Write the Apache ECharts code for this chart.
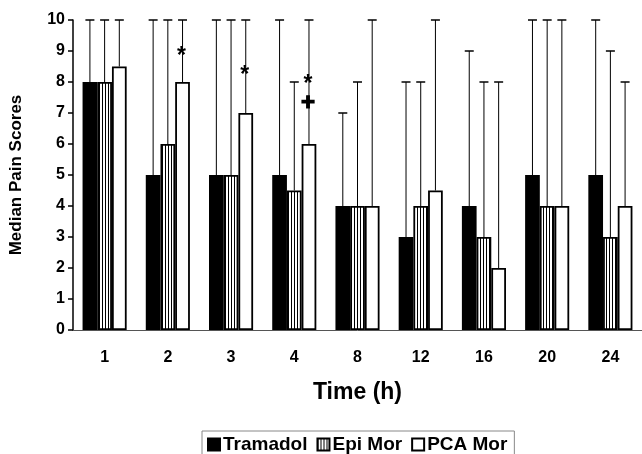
<!DOCTYPE html>
<html><head><meta charset="utf-8">
<script src="https://cdn.jsdelivr.net/npm/echarts@6/dist/echarts.min.js"></script>
<style>html,body{margin:0;padding:0;background:#fff}#c{width:642px;height:454px}</style>
</head><body><div id="c"></div>
<script>
const categories = ['1','2','3','4','8','12','16','20','24'];
const seriesNames = ['Tramadol','Epi Mor','PCA Mor'];
const tramadol = [8,5,5,5,4,3,4,5,5];
const epiMor   = [8,6,5,4.5,4,4,3,4,3];
const pcaMor   = [8.5,8,7,6,4,4.5,2,4,4];
const tramadolUpper = [10,10,10,10,7,8,9,10,10];
const epiMorUpper   = [10,10,10,8,8,8,8,10,9];
const pcaMorUpper   = [10,10,10,10,10,10,8,10,8];
const yTicks = [0,1,2,3,4,5,6,7,8,9,10];
// significance marks: [category index, series index, y value, symbol]
const marks = [[1,2,9.0,'*'],[2,2,8.4,'*'],[3,2,8.1,'*'],[3,2,7.3,'+']];

const BW = 14.7;
const pat = document.createElement('canvas');
pat.width = 3; pat.height = 4;
const pctx = pat.getContext('2d');
pctx.fillStyle = '#fff'; pctx.fillRect(0,0,3,4);
pctx.fillStyle = '#000'; pctx.fillRect(0,0,1,4);

const values = [tramadol, epiMor, pcaMor];
const uppers = [tramadolUpper, epiMorUpper, pcaMorUpper];
const fills = ['#000', {image: pat, repeat: 'repeat'}, '#fff'];

const chart = echarts.init(document.getElementById('c'), null, {renderer:'canvas'});
const series = [];
values.forEach((v, s) => {
  series.push({
    name: seriesNames[s], type: 'bar', data: v, barWidth: BW, barGap: '0%',
    itemStyle: {color: fills[s], borderColor: '#000', borderWidth: 1.8},
    z: 2
  });
});
values.forEach((v, s) => {
  series.push({
    type: 'custom', silent: true, z: 1,
    data: v.map((val, i) => [i, val, uppers[s][i]]),
    renderItem: function (params, api) {
      const off = (s - 1) * BW;
      const p0 = api.coord([api.value(0), api.value(1)]);
      const p1 = api.coord([api.value(0), api.value(2)]);
      const x = p0[0] + off;
      return {type: 'group', children: [
        {type:'line', shape:{x1:x, y1:p0[1], x2:x, y2:p1[1]}, style:{stroke:'#000', lineWidth:1}},
        {type:'line', shape:{x1:x-4.5, y1:p1[1], x2:x+4.5, y2:p1[1]}, style:{stroke:'#000', lineWidth:1.5}}
      ]};
    }
  });
});
series.push({
  type: 'custom', silent: true, z: 5,
  data: marks.map(m => [m[0], m[2], m[1]]),
  renderItem: function (params, api) {
    const m = marks[params.dataIndex];
    const p = api.coord([api.value(0), api.value(1)]);
    const off = (api.value(2) - 1) * BW;
    const isPlus = m[3] === '+';
    return {type:'text', x: p[0] + off - 1, y: p[1] + (isPlus ? 0 : 6),
      style:{text: m[3], fill:'#000', stroke: isPlus ? '#000' : null, lineWidth: isPlus ? 1.2 : 0,
        font: isPlus ? 'bold 24px "Liberation Sans", Arial' : 'bold 23px "Liberation Sans", Arial', textAlign:'center', textVerticalAlign:'middle'}};
  }
});

chart.setOption({
  animation: false,
  backgroundColor: '#fff',
  textStyle: {fontFamily: '"Liberation Sans", Arial, sans-serif'},
  grid: {left: 72, right: 0, top: 20, bottom: 124},
  legend: {
    data: seriesNames, left: 202, top: 431, orient: 'horizontal',
    icon: 'rect', itemWidth: 12, itemHeight: 12, itemGap: 9,
    padding: [4, 7, 10, 5], borderColor: '#888', borderWidth: 1,
    textStyle: {fontSize: 19, fontWeight: 'bold', color: '#000', padding: [0,0,0,-2]}
  },
  xAxis: {
    type: 'category', data: categories,
    name: 'Time (h)', nameLocation: 'middle', nameGap: 51,
    nameTextStyle: {fontSize: 23, fontWeight: 'bold', color: '#000'},
    axisLine: {lineStyle: {color: '#555', width: 1}},
    axisTick: {show: false},
    axisLabel: {fontSize: 16, fontWeight: 'bold', color: '#000', margin: 20}
  },
  yAxis: {
    type: 'value', min: 0, max: 10, interval: 1,
    name: 'Median Pain Scores', nameLocation: 'middle', nameGap: 48,
    nameTextStyle: {fontSize: 17, fontWeight: 'bold', color: '#000'},
    axisLine: {show: true, lineStyle: {color: '#000', width: 1.5}},
    axisTick: {show: true, length: 5, lineStyle: {color: '#000', width: 1.5}},
    splitLine: {show: false},
    axisLabel: {fontSize: 16, fontWeight: 'bold', color: '#000', margin: 8,
      formatter: v => yTicks.indexOf(v) >= 0 ? String(v) : ''}
  },
  series: series
});
</script></body></html>
